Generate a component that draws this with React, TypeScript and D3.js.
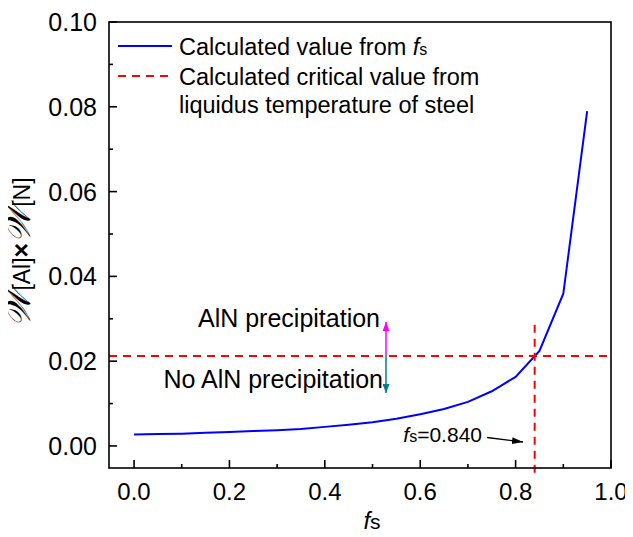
import React, { useEffect, useRef } from "react";
import * as d3 from "d3";

// solid fraction fs and the product w[Al] x w[N]
const fsValues = [0, 0.05, 0.1, 0.15, 0.2, 0.25, 0.3, 0.35, 0.4, 0.45, 0.5, 0.55, 0.6, 0.65, 0.7, 0.75, 0.8, 0.85, 0.9, 0.95];
const productValues = [0.0027, 0.0028, 0.0029, 0.0031, 0.0033, 0.0035, 0.0037, 0.0040, 0.0045, 0.0050, 0.0056, 0.0064, 0.0075, 0.0087, 0.0104, 0.0129, 0.0163, 0.0224, 0.0359, 0.0790];
const criticalValue = 0.0212;
const criticalFs = 0.84;
const xTicks = [0, 0.2, 0.4, 0.6, 0.8, 1.0];
const yTicks = [0, 0.02, 0.04, 0.06, 0.08, 0.1];

const font = "'Liberation Sans', Arial, sans-serif";

const Chart = () => {
    const svgRef = useRef<SVGSVGElement>(null);

    useEffect(() => {
        const svg = d3.select(svgRef.current);
        svg.selectAll("*").remove();

        const left = 109, right = 611, top = 22, bottom = 468;

        const x = d3.scaleLinear().domain([-0.0525, 1.0]).range([left, right]);
        const y = d3.scaleLinear().domain([-0.0052, 0.1]).range([bottom, top]);

        const defs = svg.append("defs");
        const marker = (id: string, color: string, w: number, h: number) =>
            defs.append("marker")
                .attr("id", id)
                .attr("viewBox", "0 0 10 10")
                .attr("refX", 10).attr("refY", 5)
                .attr("markerWidth", w).attr("markerHeight", h)
                .attr("markerUnits", "userSpaceOnUse")
                .attr("orient", "auto")
                .attr("preserveAspectRatio", "none")
                .append("path").attr("d", "M0,0 L10,5 L0,10 Z").attr("fill", color);
        marker("arrMag", "#ff00ff", 9, 7);
        marker("arrTeal", "#008080", 9, 7);
        marker("arrBlack", "#000", 11, 7);

        // data line
        const line = d3.line<number>()
            .x((_, i) => x(fsValues[i]))
            .y((d) => y(d));
        svg.append("path")
            .datum(productValues)
            .attr("d", line)
            .attr("fill", "none")
            .attr("stroke", "#0000ff")
            .attr("stroke-width", 2);

        // critical value lines
        svg.append("line")
            .attr("x1", left).attr("x2", right)
            .attr("y1", y(criticalValue)).attr("y2", y(criticalValue))
            .attr("stroke", "#ff0000").attr("stroke-width", 2)
            .attr("stroke-dasharray", "8,6");
        svg.append("line")
            .attr("x1", x(criticalFs)).attr("x2", x(criticalFs))
            .attr("y1", y(0.0286)).attr("y2", y(-0.0064))
            .attr("stroke", "#ff0000").attr("stroke-width", 2)
            .attr("stroke-dasharray", "8,6");

        // frame
        svg.append("rect")
            .attr("x", left).attr("y", top)
            .attr("width", right - left).attr("height", bottom - top)
            .attr("fill", "none").attr("stroke", "#000").attr("stroke-width", 1.6);

        // ticks
        const xMinor = d3.range(0, 1.01, 0.1);
        svg.append("g").selectAll("line").data(xMinor).join("line")
            .attr("x1", (d) => x(d)).attr("x2", (d) => x(d))
            .attr("y1", bottom)
            .attr("y2", (d, i) => bottom - (i % 2 === 0 ? 8 : 4))
            .attr("stroke", "#000").attr("stroke-width", 1.6);
        const yMinor = d3.range(0, 0.1001, 0.01);
        svg.append("g").selectAll("line").data(yMinor).join("line")
            .attr("y1", (d) => y(d)).attr("y2", (d) => y(d))
            .attr("x1", left)
            .attr("x2", (d, i) => left + (i % 2 === 0 ? 8 : 4))
            .attr("stroke", "#000").attr("stroke-width", 1.6);

        svg.append("g").selectAll("text").data(xTicks).join("text")
            .attr("x", (d) => x(d)).attr("y", bottom + 32)
            .attr("text-anchor", "middle")
            .attr("font-family", font).attr("font-size", 24)
            .text((d) => d3.format(".1f")(d));
        svg.append("g").selectAll("text").data(yTicks).join("text")
            .attr("x", left - 12).attr("y", (d) => y(d) + 9)
            .attr("text-anchor", "end")
            .attr("font-family", font).attr("font-size", 25)
            .text((d) => d3.format(".2f")(d));

        // x label
        const xl = svg.append("text")
            .attr("x", 372).attr("y", 529)
            .attr("text-anchor", "middle")
            .attr("font-family", font).attr("font-size", 24);
        xl.append("tspan").attr("font-style", "italic").text("f");
        xl.append("tspan").attr("font-size", 21).text("s");

        // y label
        const yl = svg.append("text")
            .attr("transform", "translate(30,252) rotate(-90)")
            .attr("text-anchor", "middle")
            .attr("font-family", font).attr("font-size", 25);
        yl.append("tspan").attr("font-size", 34).attr("font-style", "italic").text("𝒲");
        yl.append("tspan").attr("font-size", 23).text("[Al]");
        yl.append("tspan").attr("font-weight", "bold").text("×");
        yl.append("tspan").attr("font-size", 34).attr("font-style", "italic").text("𝒲");
        yl.append("tspan").attr("font-size", 23).text("[N]");

        // legend
        svg.append("line")
            .attr("x1", 118).attr("x2", 172).attr("y1", 46).attr("y2", 46)
            .attr("stroke", "#0000ff").attr("stroke-width", 2);
        svg.append("line")
            .attr("x1", 118).attr("x2", 172).attr("y1", 76).attr("y2", 76)
            .attr("stroke", "#ff0000").attr("stroke-width", 2)
            .attr("stroke-dasharray", "8,6");
        const l1 = svg.append("text")
            .attr("x", 179).attr("y", 55)
            .attr("font-family", font).attr("font-size", 23.5);
        l1.append("tspan").text("Calculated value from ");
        l1.append("tspan").attr("font-style", "italic").text("f");
        l1.append("tspan").attr("font-size", 16).text("s");
        svg.append("text")
            .attr("x", 179).attr("y", 85)
            .attr("font-family", font).attr("font-size", 23.5)
            .text("Calculated critical value from");
        svg.append("text")
            .attr("x", 179).attr("y", 113)
            .attr("font-family", font).attr("font-size", 23.5)
            .text("liquidus temperature of steel");

        // region annotations
        svg.append("line")
            .attr("x1", 386).attr("x2", 386)
            .attr("y1", y(criticalValue)).attr("y2", 322)
            .attr("stroke", "#ff00ff").attr("stroke-width", 1.5)
            .attr("marker-end", "url(#arrMag)");
        svg.append("line")
            .attr("x1", 386).attr("x2", 386)
            .attr("y1", y(criticalValue)).attr("y2", 393)
            .attr("stroke", "#008080").attr("stroke-width", 1.5)
            .attr("marker-end", "url(#arrTeal)");
        svg.append("text")
            .attr("x", 380).attr("y", 327)
            .attr("text-anchor", "end")
            .attr("font-family", font).attr("font-size", 25)
            .text("AlN precipitation");
        svg.append("text")
            .attr("x", 383).attr("y", 388)
            .attr("text-anchor", "end")
            .attr("font-family", font).attr("font-size", 25)
            .text("No AlN precipitation");

        // fs = 0.840 annotation
        const fa = svg.append("text")
            .attr("x", 482).attr("y", 442)
            .attr("text-anchor", "end")
            .attr("font-family", font).attr("font-size", 21);
        fa.append("tspan").attr("font-style", "italic").text("f");
        fa.append("tspan").attr("font-size", 16).text("s");
        fa.append("tspan").text("=0.840");
        svg.append("line")
            .attr("x1", 487).attr("y1", 437.5)
            .attr("x2", 523).attr("y2", 442)
            .attr("stroke", "#000").attr("stroke-width", 1.3)
            .attr("marker-end", "url(#arrBlack)");
    }, []);

    return <svg ref={svgRef} width={633} height={537} style={{ display: "block" }} />;
};

export default function App() {
    return (
        <div style={{ margin: -8 }}>
            <Chart />
        </div>
    );
}
